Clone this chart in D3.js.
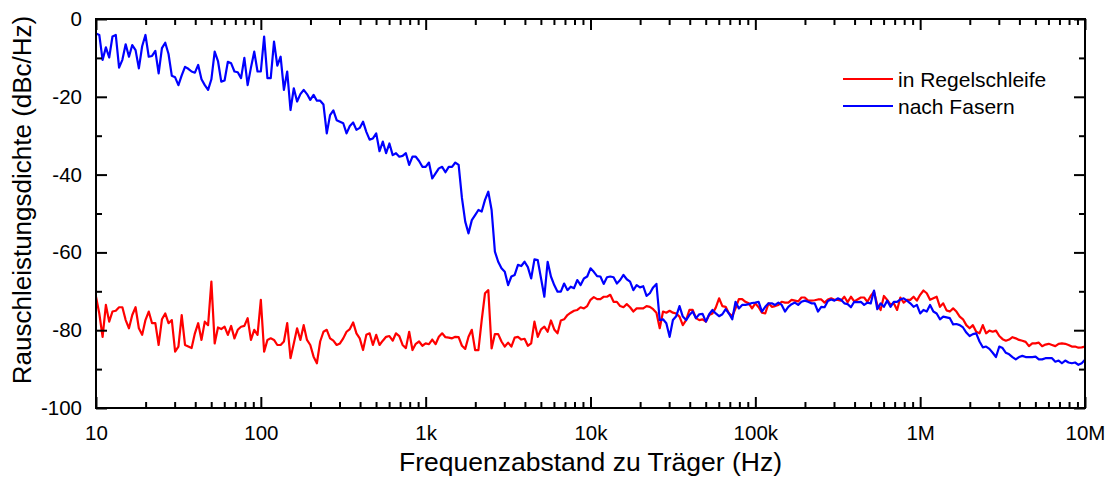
<!DOCTYPE html>
<html>
<head>
<meta charset="utf-8">
<script src="https://cdn.jsdelivr.net/npm/d3@7"></script>
<style>
  body { margin: 0; background: #fff; }
  svg text { font-family: "Liberation Sans", Arial, Helvetica, sans-serif; fill: #000; }
</style>
</head>
<body>
<svg id="chart" width="1112" height="480"></svg>
<script>
// Sweep: 10 Hz .. 10 MHz, 50 log-spaced points per decade
const sweepStartHz = 10;
const sweepDecades = 6;
const pointsPerDecade = 50;

// Phase noise spectral density in dBc/Hz, one array per decade (last array ends with the 10 MHz point)
const inLoop_10_100 = [-71.4,-75.7,-81.7,-73.5,-77.8,-75.2,-75,-74.1,-74.1,-77.4, -79.5,-76.1,-74.1,-79.5,-81.2,-77.4,-75.2,-78.2,-78.2,-83.8, -77.2,-75.7,-78.2,-77.4,-85.5,-84.2,-76.1,-83.8,-84.2,-84.6, -80.8,-78.2,-82.5,-77.8,-78.7,-67.5,-83.4,-79.3,-79.7,-79.1, -81.2,-78.9,-82.1,-79.9,-79.1,-78.9,-76.9,-82.5,-79.9,-81.2];
const inLoop_100_1k = [-72.2,-85.5,-82.5,-82.1,-82.5,-83.8,-83.8,-82.9,-78.2,-87.2, -83.4,-79.5,-82.5,-78.7,-82.5,-83.8,-86.8,-88.5,-82.9,-80.4, -79.9,-82.1,-82.7,-83.8,-83.4,-82.1,-80.4,-79.7,-78,-80.8, -82.1,-85.1,-81.2,-80.8,-83.8,-81.2,-83.8,-82.7,-81.7,-81.5, -82.7,-80.8,-81.5,-83.8,-84.6,-80.4,-85.1,-83.5,-82.9,-84];
const inLoop_1k_10k = [-83.4,-83.6,-82.4,-83.6,-81.7,-80.8,-81.8,-81.9,-82.1,-81.7, -81.8,-84,-84.8,-81.7,-79.9,-85.1,-85.1,-77.4,-70.5,-69.7, -84.7,-81,-81,-82.9,-84.2,-83.2,-84.2,-81.9,-81.7,-82.4, -82.2,-84,-83.4,-77.8,-81.7,-79.8,-79.1,-80.4,-77.5,-79.8, -80.8,-77.5,-77.2,-76.1,-75.5,-75,-74.8,-74.1,-74.4,-73.8];
const inLoop_10k_100k = [-72.2,-71.5,-72,-72,-71.4,-71.4,-70.9,-72.7,-72.7,-73.8, -74.1,-73.3,-74.1,-75.2,-74.4,-74.4,-74.4,-73.8,-74,-74.6, -75.5,-79.5,-75.2,-75.5,-75,-75.5,-75.7,-76.5,-78.7,-77.4, -74.8,-74.8,-76.9,-77.4,-77.2,-77.8,-76.1,-75.7,-74.2,-71.8, -73.8,-74,-75.7,-76.4,-74.4,-72,-72,-72.7,-73.1,-74.4];
const inLoop_100k_1M = [-73.1,-74.1,-75.5,-75.7,-73.1,-74,-73.8,-73.5,-72.7,-72.9, -72.9,-72.2,-72.4,-72.6,-71.6,-71.6,-72.4,-72.4,-72.3,-72.1, -72.1,-72.9,-72.1,-71.8,-72.2,-72.2,-72.4,-71.4,-72.8,-71.4, -72.6,-72.1,-71.6,-71.6,-72.7,-71.2,-70.1,-73.5,-74.8,-71.2, -72.2,-73.4,-73.1,-74.8,-71.6,-72.9,-72.2,-72.2,-71.4,-72.4];
const inLoop_1M_10M = [-70.9,-69.8,-70.5,-72.2,-71.8,-71.4,-74,-73.1,-74.9,-75.2, -74.4,-75.2,-76.5,-77.2,-78.7,-79.5,-78.7,-80.4,-80.8,-78.7, -80.8,-80.1,-80.4,-80.1,-81.5,-82.3,-82.7,-82.4,-81.8,-82.1, -82.5,-82.7,-83,-84.1,-83.4,-83.4,-83.2,-84.1,-83.7,-83.5, -83.8,-84.1,-83.5,-83.4,-83.5,-83.8,-84.2,-84.2,-84.5,-84.4, -84.2];

const afterFiber_10_100 = [-3.7,-4.1,-10.5,-7.3,-9.9,-4.5,-4.1,-12.5,-10.5,-6.5, -9.7,-6.7,-8,-12.7,-7,-4.1,-9.7,-9.5,-8.2,-14, -7.5,-6.1,-9,-14.6,-15,-17,-14.5,-12.3,-12.8,-13.5, -13.8,-11.8,-15.5,-17,-18.2,-15.5,-8.4,-10.8,-16.1,-15.8, -11,-11.4,-13.5,-13.7,-15.2,-10,-17,-12.5,-8.4,-13.5];
const afterFiber_100_1k = [-13.5,-4.5,-15.2,-15.2,-5.8,-12,-9.7,-18.2,-13.5,-23.4, -17.8,-21.2,-19.3,-18.2,-19.3,-20.8,-19.5,-21,-21,-22, -29.4,-24.7,-23.5,-26,-26.4,-26.8,-29.4,-27.5,-26.6,-28.5, -28,-26.4,-29,-31,-30.7,-29.4,-34,-31.5,-34.5,-32, -35,-34.5,-35.4,-35.2,-34.5,-37.5,-35.4,-35.4,-36.5,-38];
const afterFiber_1k_10k = [-38,-36.9,-41,-39.7,-38.4,-38,-39.4,-38,-38,-36.9, -37.5,-46,-52.1,-55.1,-51.7,-50.4,-49.1,-49.5,-46.5,-44.4, -49.1,-59.8,-62.4,-64.1,-65,-68.4,-66.2,-65.8,-63.2,-63.5, -62.4,-63.8,-66.7,-61.8,-62,-66.7,-71.4,-62.4,-66.2,-68.4, -70.1,-70.1,-68,-69.7,-68.8,-69.2,-67.1,-68.4,-66.7,-66.2];
const afterFiber_10k_100k = [-64.1,-65,-66.1,-66.2,-68.1,-66.4,-66.2,-66.4,-68,-67.1, -65.8,-66.9,-67.5,-69.7,-68.4,-69,-68.7,-71.2,-70.5,-69, -68.1,-77.4,-77.2,-78.2,-81.7,-77.4,-76.4,-73.8,-76.5,-77.4, -76.1,-75.2,-76.9,-75.9,-75.8,-77.8,-75.9,-74.8,-75.7,-76.4, -75.9,-74.6,-75.7,-77.2,-72.7,-74.4,-73.5,-73.5,-73.3,-73];
const afterFiber_100k_1M = [-72.9,-72.7,-75.2,-74,-73.1,-73.1,-73.5,-72.9,-73.5,-75.2, -74,-73.3,-72.9,-73.5,-72.7,-72.4,-72.7,-73.1,-73.1,-75.2, -74,-74.1,-72.5,-72.1,-72.4,-71.8,-72.2,-73.1,-73.3,-74.1, -72.7,-72.8,-72.7,-73.5,-72.9,-73.1,-69.8,-74.6,-73.1,-74, -72.4,-74,-72.7,-72.7,-72.1,-71.8,-72.4,-73.1,-74,-73.5];
const afterFiber_1M_10M = [-75.7,-74.8,-75.2,-73.5,-75.2,-75.7,-77.2,-76.5,-76.7,-76.9, -78.5,-78.4,-78.7,-79.3,-80.6,-81.5,-81,-80.8,-82.9,-84.4, -84.2,-84.8,-85.8,-86.9,-84.2,-84.6,-85.8,-86.2,-86.9,-87.5, -86.9,-86.6,-86.9,-86.9,-86.9,-86.8,-87.5,-87.5,-87.2,-87.2, -87.2,-88.1,-87.8,-88.5,-87.8,-88.3,-88.5,-88.3,-88.9,-88.5, -87.6];

const xTickValues = [10, 100, 1e3, 1e4, 1e5, 1e6, 1e7];
const xTickLabels = ["10", "100", "1k", "10k", "100k", "1M", "10M"];
const yTickValues = [0, -20, -40, -60, -80, -100];
const yTickLabels = ["0", "-20", "-40", "-60", "-80", "-100"];
const yMinorValues = [-10, -30, -50, -70, -90];

const seriesNames = ["in Regelschleife", "nach Fasern"];
const seriesColors = ["#ff0000", "#0000ff"];
const xTitle = "Frequenzabstand zu Träger (Hz)";
const yTitle = "Rauschleistungsdichte (dBc/Hz)";

// ---- assemble series ----
const inLoop = [].concat(inLoop_10_100, inLoop_100_1k, inLoop_1k_10k, inLoop_10k_100k, inLoop_100k_1M, inLoop_1M_10M);
const afterFiber = [].concat(afterFiber_10_100, afterFiber_100_1k, afterFiber_1k_10k, afterFiber_10k_100k, afterFiber_100k_1M, afterFiber_1M_10M);
const freqs = d3.range(sweepDecades * pointsPerDecade + 1)
  .map(i => sweepStartHz * Math.pow(10, i / pointsPerDecade));
const series = [inLoop, afterFiber].map((vals, k) => ({
  name: seriesNames[k],
  color: seriesColors[k],
  points: vals.map((v, i) => [freqs[i], v])
}));

// ---- layout ----
const plot = { left: 96, right: 1085, top: 19, bottom: 408 };
const svg = d3.select("#chart");

const x = d3.scaleLog().domain([10, 1e7]).range([plot.left, plot.right]);
const y = d3.scaleLinear().domain([-100, 0]).range([plot.bottom, plot.top]);

const xMinor = [];
for (let d = 10; d < 1e7; d *= 10) for (let m = 2; m <= 9; m++) xMinor.push(d * m);

svg.append("defs").append("clipPath").attr("id", "plotClip")
  .append("rect").attr("x", plot.left).attr("y", plot.top)
  .attr("width", plot.right - plot.left).attr("height", plot.bottom - plot.top);

// ---- data lines ----
const line = d3.line().x(d => x(d[0])).y(d => y(d[1]));
const lines = svg.append("g").attr("clip-path", "url(#plotClip)");
series.forEach(s => {
  lines.append("path").datum(s.points)
    .attr("d", line).attr("fill", "none")
    .attr("stroke", s.color).attr("stroke-width", 2.2)
    .attr("stroke-linejoin", "round");
});

// ---- axes (ticks point inward on all four sides) ----
const majorLen = 11, minorLen = 6, tickFont = 20.5;
function styleAxis(g) {
  g.select(".domain").remove();
  g.selectAll(".tick line").attr("stroke", "#000").attr("stroke-width", 2);
  g.selectAll(".tick text").style("font-size", tickFont + "px")
    .style("font-family", '"Liberation Sans", Arial, sans-serif').attr("fill", "#000");
}
const fmtX = d => xTickLabels[xTickValues.indexOf(d)];
const fmtY = d => yTickLabels[yTickValues.indexOf(d)];

svg.append("g").attr("transform", `translate(0,${plot.bottom})`)
  .call(d3.axisBottom(x).tickValues(xTickValues).tickFormat(fmtX).tickSize(-majorLen).tickPadding(17))
  .call(styleAxis);
svg.append("g").attr("transform", `translate(0,${plot.bottom})`)
  .call(d3.axisBottom(x).tickValues(xMinor).tickFormat("").tickSize(-minorLen))
  .call(styleAxis);
svg.append("g").attr("transform", `translate(0,${plot.top})`)
  .call(d3.axisTop(x).tickValues(xTickValues).tickFormat("").tickSize(-majorLen))
  .call(styleAxis);
svg.append("g").attr("transform", `translate(0,${plot.top})`)
  .call(d3.axisTop(x).tickValues(xMinor).tickFormat("").tickSize(-minorLen))
  .call(styleAxis);

svg.append("g").attr("transform", `translate(${plot.left},0)`)
  .call(d3.axisLeft(y).tickValues(yTickValues).tickFormat(fmtY).tickSize(-majorLen).tickPadding(14))
  .call(styleAxis);
svg.append("g").attr("transform", `translate(${plot.left},0)`)
  .call(d3.axisLeft(y).tickValues(yMinorValues).tickFormat("").tickSize(-minorLen))
  .call(styleAxis);
svg.append("g").attr("transform", `translate(${plot.right},0)`)
  .call(d3.axisRight(y).tickValues(yTickValues).tickFormat("").tickSize(-majorLen))
  .call(styleAxis);
svg.append("g").attr("transform", `translate(${plot.right},0)`)
  .call(d3.axisRight(y).tickValues(yMinorValues).tickFormat("").tickSize(-minorLen))
  .call(styleAxis);

// frame
svg.append("rect")
  .attr("x", plot.left).attr("y", plot.top)
  .attr("width", plot.right - plot.left).attr("height", plot.bottom - plot.top)
  .attr("fill", "none").attr("stroke", "#000").attr("stroke-width", 2);

// ---- axis titles ----
svg.append("text")
  .attr("x", (plot.left + plot.right) / 2).attr("y", 471)
  .attr("text-anchor", "middle").style("font-size", "26.5px")
  .text(xTitle);
svg.append("text")
  .attr("transform", `translate(31,200) rotate(-90)`)
  .attr("text-anchor", "middle").style("font-size", "26px")
  .text(yTitle);

// ---- legend ----
const legend = svg.append("g");
series.forEach((s, i) => {
  const ly = 79 + i * 27;
  legend.append("line").attr("x1", 843).attr("x2", 893).attr("y1", ly).attr("y2", ly)
    .attr("stroke", s.color).attr("stroke-width", 2.2);
  legend.append("text").attr("x", 898).attr("y", ly).attr("dy", "0.36em")
    .style("font-size", "21px").text(s.name);
});
</script>
</body>
</html>
